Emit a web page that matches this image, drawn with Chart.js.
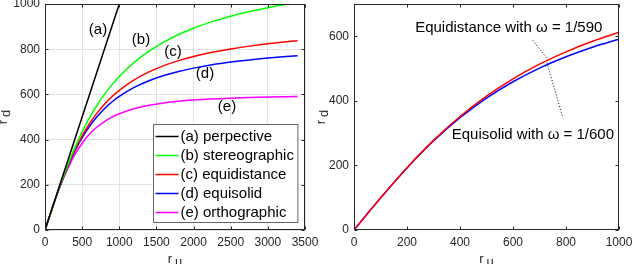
<!DOCTYPE html>
<html>
<head>
<meta charset="utf-8">
<script src="https://cdn.jsdelivr.net/npm/chart.js@4.4.1/dist/chart.umd.min.js"></script>
<style>
  html, body { margin: 0; padding: 0; background: #fff; overflow: hidden; width: 632px; height: 264px; }
  canvas { position: absolute; top: 0; }
  #left { left: 0; }
  #right { left: 316px; }
</style>
</head>
<body>
<canvas id="left" width="330" height="264"></canvas>
<canvas id="right" width="316" height="264"></canvas>
<script>
// left panel: r_d against r_u for the five projection models
const ruLeft = [0, 100, 200, 300, 400, 500, 600, 700, 800, 900, 1000, 1200, 1400, 1600, 1800, 2000, 2250, 2500, 2750, 3000, 3250, 3400];
const ruPersp = [0, 1000];
const rdPersp = [0, 1000];
const rdStereo = [0, 99.3, 194.7, 283.3, 363.3, 434.5, 497.1, 551.9, 600.0, 642.2, 679.4, 741.6, 791.3, 831.6, 864.9, 892.8, 921.9, 946.1, 966.4, 983.8, 998.7, 1006.8];
const rdEquidist = [0, 99.1, 193.1, 278.2, 352.8, 416.8, 471.2, 517.3, 556.4, 589.7, 618.2, 664.3, 699.5, 727.2, 749.4, 767.6, 786.1, 801.2, 813.6, 824.0, 832.9, 837.7];
const rdEquisolid = [0, 99.0, 192.2, 275.7, 347.7, 408.5, 459.2, 501.4, 536.7, 566.2, 591.2, 630.9, 660.6, 683.5, 701.7, 716.3, 731.1, 742.9, 752.7, 760.8, 767.6, 771.3];
const rdOrtho = [0, 98.6, 189.7, 268.3, 332.8, 384.1, 424.3, 455.6, 480.0, 499.2, 514.5, 536.7, 551.5, 561.8, 569.2, 574.7, 579.7, 583.4, 586.2, 588.3, 590.0, 590.9];
const leftLabels = ['(a) perpective', '(b) stereographic', '(c) equidistance', '(d) equisolid', '(e) orthographic'];
const xTicksLeft = [0, 500, 1000, 1500, 2000, 2500, 3000, 3500];
const yTicksLeft = [0, 200, 400, 600, 800, 1000];

// right panel: the two fitted models
const ruRight = [0, 100, 200, 300, 400, 500, 600, 700, 800, 900, 1000];
const rdEquidist590 = [0, 99.1, 192.8, 277.5, 351.5, 414.8, 468.3, 513.6, 551.9, 584.4, 612.3];
const rdEquisolid600 = [0, 99.0, 192.2, 275.7, 347.7, 408.5, 459.2, 501.4, 536.7, 566.2, 591.2];
const xTicksRight = [0, 200, 400, 600, 800, 1000];
const yTicksRight = [0, 200, 400, 600];

Chart.defaults.font.family = '"Liberation Sans", Arial, sans-serif';
Chart.defaults.font.size = 12;
Chart.defaults.color = '#262626';

const pts = (xs, ys) => xs.map((x, i) => ({ x: x, y: ys[i] }));

function line(label, xs, ys, color) {
  return {
    label: label,
    data: pts(xs, ys),
    borderColor: color,
    backgroundColor: color,
    borderWidth: 1.5,
    pointRadius: 0,
    fill: false,
    cubicInterpolationMode: 'monotone'
  };
}

// r with a subscript, the way the original axis labels look
function subLabel(ctx, cx, cy, base, sub, rotate) {
  ctx.save();
  ctx.translate(cx, cy);
  if (rotate) ctx.rotate(-Math.PI / 2);
  ctx.font = '13px "Liberation Sans", Arial, sans-serif';
  ctx.fillStyle = '#262626';
  ctx.textBaseline = 'middle';
  ctx.textAlign = 'left';
  const w1 = ctx.measureText(base).width;
  const w2 = ctx.measureText(sub).width;
  const x0 = -(w1 + w2 + 3) / 2;
  ctx.fillText(base, x0, 0);
  ctx.fillText(sub, x0 + w1 + 3, 3);
  ctx.restore();
}

const deco = {
  id: 'deco',
  afterDraw(chart, args, o) {
    const { ctx, chartArea: a, scales: { x, y } } = chart;
    ctx.save();
    // box and inward ticks
    ctx.strokeStyle = '#262626';
    ctx.lineWidth = 1;
    const L = Math.round(a.left) + 0.5, R = Math.round(a.right) - 0.5;
    const T = Math.round(a.top) + 0.5, B = Math.round(a.bottom) - 0.5;
    ctx.strokeRect(L, T, R - L, B - T);
    ctx.beginPath();
    x.ticks.forEach(t => {
      const p = Math.round(x.getPixelForValue(t.value)) + 0.5;
      ctx.moveTo(p, B); ctx.lineTo(p, B - 3);
      ctx.moveTo(p, T); ctx.lineTo(p, T + 3);
    });
    y.ticks.forEach(t => {
      const p = Math.round(y.getPixelForValue(t.value)) + 0.5;
      ctx.moveTo(L, p); ctx.lineTo(L + 3, p);
      ctx.moveTo(R, p); ctx.lineTo(R - 3, p);
    });
    ctx.stroke();

    // text notes on the curves
    ctx.fillStyle = '#000';
    ctx.font = '15px "Liberation Sans", Arial, sans-serif';
    ctx.textAlign = 'center';
    ctx.textBaseline = 'middle';
    (o.notes || []).forEach(n => {
      ctx.fillText(n.text, x.getPixelForValue(n.x), y.getPixelForValue(n.y));
    });

    // dotted pointers
    ctx.strokeStyle = '#000';
    ctx.setLineDash([1, 2]);
    (o.pointers || []).forEach(p => {
      ctx.beginPath();
      ctx.moveTo(x.getPixelForValue(p[0]), y.getPixelForValue(p[1]));
      ctx.lineTo(x.getPixelForValue(p[2]), y.getPixelForValue(p[3]));
      ctx.stroke();
    });
    ctx.setLineDash([]);

    // legend in the lower right corner
    if (o.legend) {
      const sets = chart.data.datasets;
      ctx.textAlign = 'left';
      let tw = 0;
      sets.forEach(d => { tw = Math.max(tw, ctx.measureText(d.label).width); });
      const w = 2 + 23 + 2 + tw + 4, h = 98;
      const bx = Math.round(a.right - 8 - w) + 0.5, by = Math.round(a.bottom - 8 - h) + 0.5;
      ctx.fillStyle = '#fff';
      ctx.fillRect(bx, by, w, h);
      ctx.strokeStyle = '#666';
      ctx.strokeRect(bx, by, w, h);
      sets.forEach((d, i) => {
        const ry = by + 12 + i * 19;
        ctx.strokeStyle = d.borderColor;
        ctx.lineWidth = 1.5;
        ctx.beginPath();
        ctx.moveTo(bx + 2, ry); ctx.lineTo(bx + 25, ry);
        ctx.stroke();
        ctx.fillStyle = '#000';
        ctx.fillText(d.label, bx + 27, ry);
      });
    }

    // axis titles
    subLabel(ctx, (a.left + a.right) / 2, 259, 'r', 'u', false);
    subLabel(ctx, o.yTitleX, (a.top + a.bottom) / 2, 'r', 'd', true);
    ctx.restore();
  }
};

function options(xMax, yMax, xTicks, yTicks, showGrid, yWidth, padRight, extra) {
  return {
    responsive: false,
    animation: false,
    layout: { padding: { left: 0, top: 4, right: padRight, bottom: 0 } },
    plugins: { legend: { display: false }, tooltip: { enabled: false }, deco: extra },
    scales: {
      x: {
        type: 'linear', min: 0, max: xMax,
        afterBuildTicks: s => { s.ticks = xTicks.map(v => ({ value: v })); },
        afterFit: s => { s.height = 34; s.paddingLeft = s.paddingRight = s.paddingTop = s.paddingBottom = 0; },
        ticks: { padding: 5, maxRotation: 0, autoSkip: false, callback: v => String(v) },
        grid: { display: showGrid, color: '#e2e2e2', drawTicks: false },
        border: { display: false }
      },
      y: {
        type: 'linear', min: 0, max: yMax,
        afterBuildTicks: s => { s.ticks = yTicks.map(v => ({ value: v })); },
        afterFit: s => { s.width = yWidth; s.paddingLeft = s.paddingRight = s.paddingTop = s.paddingBottom = 0; },
        ticks: { padding: 5, autoSkip: false, callback: v => String(v) },
        grid: { display: showGrid, color: '#e2e2e2', drawTicks: false },
        border: { display: false }
      }
    }
  };
}

new Chart(document.getElementById('left'), {
  type: 'line',
  data: {
    datasets: [
      line(leftLabels[0], ruPersp, rdPersp, '#000000'),
      line(leftLabels[1], ruLeft, rdStereo, '#00ff00'),
      line(leftLabels[2], ruLeft, rdEquidist, '#ff0000'),
      line(leftLabels[3], ruLeft, rdEquisolid, '#0000ff'),
      line(leftLabels[4], ruLeft, rdOrtho, '#ff00ff')
    ]
  },
  options: options(3500, 1000, xTicksLeft, yTicksLeft, true, 45, 25, {
    legend: true,
    yTitleX: 3,
    notes: [
      { text: '(a)', x: 713, y: 885 },
      { text: '(b)', x: 1292, y: 841 },
      { text: '(c)', x: 1723, y: 788 },
      { text: '(d)', x: 2154, y: 690 },
      { text: '(e)', x: 2450, y: 544 }
    ]
  }),
  plugins: [deco]
});

new Chart(document.getElementById('right'), {
  type: 'line',
  data: {
    datasets: [
      line('Equidistance', ruRight, rdEquidist590, '#ff0000'),
      line('Equisolid', ruRight, rdEquisolid600, '#0000ff')
    ]
  },
  options: options(1000, 700, xTicksRight, yTicksRight, false, 38, 13, {
    legend: false,
    yTitleX: 5,
    notes: [
      { text: 'Equidistance with ω = 1/590', x: 584, y: 627 },
      { text: 'Equisolid with ω = 1/600', x: 675, y: 295 }
    ],
    pointers: [[675, 587, 732, 528], [728, 518, 788, 348]]
  }),
  plugins: [deco]
});
</script>
</body>
</html>
